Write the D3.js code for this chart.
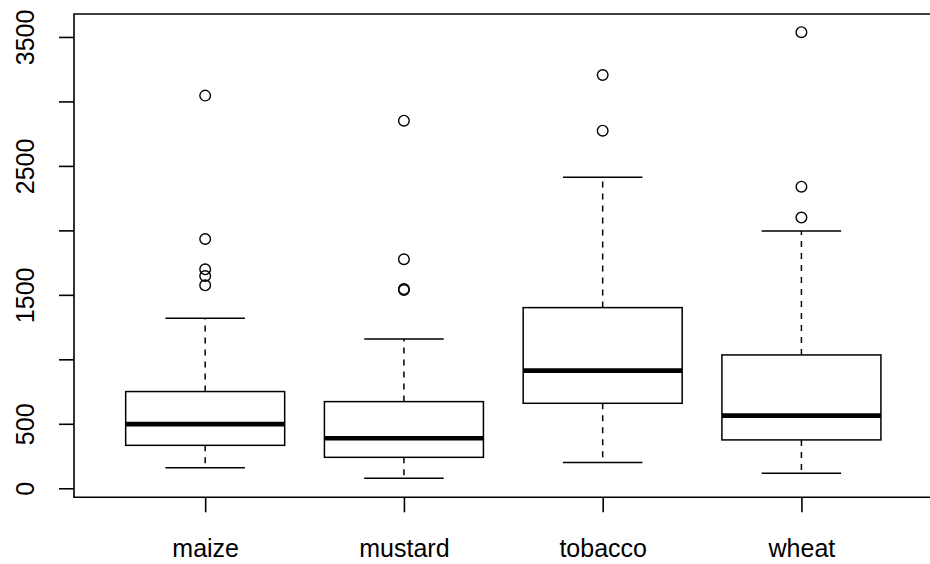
<!DOCTYPE html>
<meta charset="utf-8">
<style>
  html, body { margin: 0; padding: 0; background: #fff; overflow: hidden; }
  svg { display: block; }
  text { font-family: "Liberation Sans", Arial, sans-serif; fill: #000; }
</style>
<svg width="930" height="564"></svg>

<script src="https://d3js.org/d3.v7.min.js"></script>
<script>

	// values
	var categories   = ["maize", "mustard", "tobacco", "wheat"];
	var lowerWhisker = [160, 78, 199, 116];
	var q1           = [333, 240, 659, 375];
	var median       = [497, 388, 912, 563];
	var q3           = [750, 672, 1401, 1034];
	var upperWhisker = [1318, 1158, 2412, 1996];
	var outliers     = [
		[3045, 1933, 1698, 1646, 1574],
		[2851, 1776, 1545, 1537],
		[3205, 2773],
		[3537, 2339, 2099]
	];
	var yTicks  = [0, 500, 1000, 1500, 2000, 2500, 3000, 3500];
	var yLabels = [0, 500, 1500, 2500, 3500];

	var svg = d3.select("svg");

	var plotTop = 14, plotBottom = 497.3;

	var x = d3.scaleLinear().domain([0.34, 4.66]).range([74, 932.6]);
	var y = d3.scaleLinear().domain([-70, 3678]).range([plotBottom, plotTop]);

	var boxes = categories.map(function(c, i) {
		return {name: c, pos: i + 1, lo: lowerWhisker[i], q1: q1[i], med: median[i],
			q3: q3[i], hi: upperWhisker[i], out: outliers[i]};
	});

	var g = svg.append("g");

	// whiskers (dashed)
	g.selectAll(".whisk-lo").data(boxes).enter().append("line")
		.attr("x1", function(d) { return x(d.pos); })
		.attr("x2", function(d) { return x(d.pos); })
		.attr("y1", function(d) { return y(d.q1); })
		.attr("y2", function(d) { return y(d.lo); })
		.attr("stroke", "#000").attr("stroke-width", 1.5)
		.attr("stroke-dasharray", "6,6");

	g.selectAll(".whisk-hi").data(boxes).enter().append("line")
		.attr("x1", function(d) { return x(d.pos); })
		.attr("x2", function(d) { return x(d.pos); })
		.attr("y1", function(d) { return y(d.q3); })
		.attr("y2", function(d) { return y(d.hi); })
		.attr("stroke", "#000").attr("stroke-width", 1.5)
		.attr("stroke-dasharray", "6,6");

	// staples
	["lo", "hi"].forEach(function(k) {
		g.selectAll(".staple-" + k).data(boxes).enter().append("line")
			.attr("x1", function(d) { return x(d.pos - 0.2); })
			.attr("x2", function(d) { return x(d.pos + 0.2); })
			.attr("y1", function(d) { return y(d[k]); })
			.attr("y2", function(d) { return y(d[k]); })
			.attr("stroke", "#000").attr("stroke-width", 1.5);
	});

	// boxes
	g.selectAll(".box").data(boxes).enter().append("rect")
		.attr("x", function(d) { return x(d.pos - 0.4); })
		.attr("width", function(d) { return x(d.pos + 0.4) - x(d.pos - 0.4); })
		.attr("y", function(d) { return y(d.q3); })
		.attr("height", function(d) { return y(d.q1) - y(d.q3); })
		.attr("fill", "none").attr("stroke", "#000").attr("stroke-width", 1.5);

	// medians
	g.selectAll(".median").data(boxes).enter().append("line")
		.attr("x1", function(d) { return x(d.pos - 0.4); })
		.attr("x2", function(d) { return x(d.pos + 0.4); })
		.attr("y1", function(d) { return y(d.med); })
		.attr("y2", function(d) { return y(d.med); })
		.attr("stroke", "#000").attr("stroke-width", 4.7);

	// outliers
	boxes.forEach(function(b) {
		g.selectAll(null).data(b.out).enter().append("circle")
			.attr("cx", x(b.pos))
			.attr("cy", function(v) { return y(v); })
			.attr("r", 5.3)
			.attr("fill", "none").attr("stroke", "#000").attr("stroke-width", 1.4);
	});

	// frame: the right edge falls outside the picture, so only three sides
	var x0 = x(0.34), x1 = x(4.66);
	svg.append("path")
		.attr("d", "M" + x1 + "," + plotTop + "H" + x0 + "V" + plotBottom + "H" + x1)
		.attr("fill", "none").attr("stroke", "#000").attr("stroke-width", 1.6);

	// AXES

	var yAxis = svg.append("g")
		.attr("transform", "translate(" + x0 + ",0)")
		.call(d3.axisLeft(y).tickValues(yTicks).tickSize(15)
			.tickFormat(function(d) { return yLabels.indexOf(d) >= 0 ? d : ""; }));
	yAxis.select(".domain").remove();
	yAxis.selectAll("line").attr("stroke", "#000").attr("stroke-width", 1.6);
	yAxis.selectAll("text")
		.attr("x", 0).attr("y", -40).attr("dy", 0)
		.attr("text-anchor", "middle")
		.attr("transform", "rotate(-90)")
		.style("font-size", "25px");

	var xAxis = svg.append("g")
		.attr("transform", "translate(0," + plotBottom + ")")
		.call(d3.axisBottom(x).tickValues([1, 2, 3, 4]).tickSize(15)
			.tickFormat(function(d) { return categories[d - 1]; }));
	xAxis.select(".domain").remove();
	xAxis.selectAll("line").attr("stroke", "#000").attr("stroke-width", 1.6);
	xAxis.selectAll("text")
		.attr("y", 60).attr("dy", 0)
		.style("font-size", "25px");

</script>
